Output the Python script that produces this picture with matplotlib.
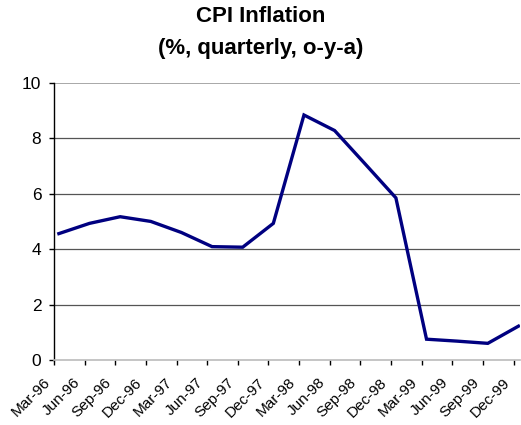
import matplotlib
matplotlib.use('Agg')
import matplotlib.pyplot as plt
import numpy as np

plt.rcParams['font.family'] = ['Liberation Sans', 'DejaVu Sans']

quarters = ['Mar-96', 'Jun-96', 'Sep-96', 'Dec-96', 'Mar-97', 'Jun-97', 'Sep-97', 'Dec-97',
            'Mar-98', 'Jun-98', 'Sep-98', 'Dec-98', 'Mar-99', 'Jun-99', 'Sep-99', 'Dec-99']
cpi = [4.56, 4.93, 5.17, 5.0, 4.6, 4.09, 4.07, 4.93,
       8.84, 8.28, 7.07, 5.85, 0.75, 0.68, 0.6, 1.22]

fig = plt.figure(figsize=(5.21, 4.25), dpi=100)
ax = fig.add_axes([0.1036, 0.153, 0.895, 0.652])

x = np.arange(len(quarters))
ax.plot(x + 0.16, cpi, color='#000080', lw=2.4, solid_joinstyle='miter')

ax.set_ylim(0, 10)
ax.set_xlim(0, 15.22)
ax.set_yticks([0, 2, 4, 6, 8, 10])
ax.set_xticks(x)
ax.set_xticklabels([])
# rotated labels, baseline end sits just left of / below each tick
for xi, q in zip(x, quarters):
    ax.annotate(q, (xi, 0), xycoords=('data', 'axes fraction'), xytext=(-2.5, -16.5),
                textcoords='offset points', rotation=45, ha='right', va='baseline',
                rotation_mode='anchor', fontsize=11, annotation_clip=False)
ax.tick_params(axis='y', labelsize=12.5, length=3.6, direction='out', width=1, pad=5.5)
ax.tick_params(axis='x', length=3.6, direction='out', width=1)

for v in [2, 4, 6, 8]:
    ax.axhline(v, color='#555555', lw=0.9, zorder=0)
ax.axhline(10, color='#999999', lw=1.2, zorder=0)

for s in ['top', 'right']:
    ax.spines[s].set_visible(False)
ax.spines['left'].set_linewidth(1)
ax.spines['bottom'].set_color('#bbbbbb')
ax.spines['bottom'].set_linewidth(1.2)

fig.text(0.5, 0.96, 'CPI Inflation', ha='center', va='center', fontsize=16, fontweight='bold')
fig.text(0.5, 0.887, '(%, quarterly, o-y-a)', ha='center', va='center', fontsize=16, fontweight='bold')

fig.savefig('out.png', dpi=100)
